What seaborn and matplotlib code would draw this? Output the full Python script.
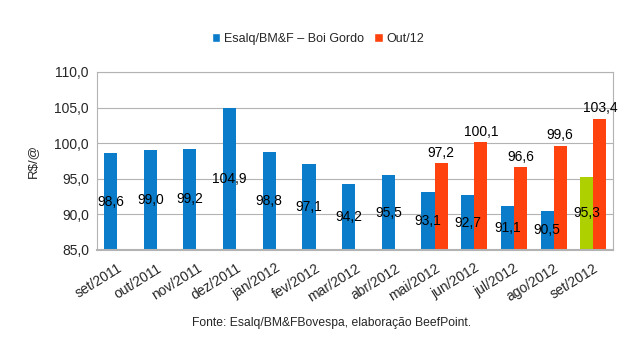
import pandas as pd
import numpy as np
import matplotlib
matplotlib.use("Agg")
import matplotlib.pyplot as plt
import seaborn as sns
from matplotlib.patches import Patch

# Data
months = ["set/2011", "out/2011", "nov/2011", "dez/2011", "jan/2012", "fev/2012",
          "mar/2012", "abr/2012", "mai/2012", "jun/2012", "jul/2012", "ago/2012", "set/2012"]
esalq = [98.6, 99.0, 99.2, 104.9, 98.8, 97.1, 94.2, 95.5, 93.1, 92.7, 91.1, 90.5, 95.3]
out12 = [np.nan] * 8 + [97.2, 100.1, 96.6, 99.6, 103.4]

series_names = ["Esalq/BM&F – Boi Gordo", "Out/12"]
blue, red, green = "#0a7cca", "#ff420e", "#aecf00"

df = pd.concat([
    pd.DataFrame({"mes": months, "valor": esalq, "serie": series_names[0]}),
    pd.DataFrame({"mes": months, "valor": out12, "serie": series_names[1]}),
], ignore_index=True)

sns.set_style("white")
plt.rcParams["font.family"] = ["Liberation Sans", "DejaVu Sans"]

fig = plt.figure(figsize=(6.4, 3.51), dpi=100)
ax = fig.add_axes([0.152, 0.288, 0.806, 0.507])

sns.barplot(data=df, x="mes", y="valor", hue="serie", order=months,
            hue_order=series_names, palette=[blue, red], width=0.66,
            saturation=1, errorbar=None, ax=ax, legend=False,
            linewidth=0, edgecolor="none")

ymin, ymax = 85, 110
ax.set_ylim(ymin, ymax)
ax.set_xlim(-0.5, len(months) - 0.5)

# last Esalq bar is highlighted in green
blue_bars = [p for p in ax.containers[0]]
blue_bars[-1].set_facecolor(green)

def fmt(v):
    return f"{v:.1f}".replace(".", ",")

# blue labels centred in visible part of bar, red labels above bar
for p in ax.containers[0]:
    h = p.get_height()
    if np.isnan(h):
        continue
    ax.text(p.get_x() + p.get_width() / 2, (ymin + h) / 2, fmt(h),
            ha="center", va="center", fontsize=10, color="black")
for p in ax.containers[1]:
    h = p.get_height()
    if np.isnan(h) or h == 0:
        continue
    ax.text(p.get_x() + p.get_width() / 2, h + 0.5, fmt(h),
            ha="center", va="bottom", fontsize=10, color="black")

ax.set_yticks(np.arange(85, 110.1, 5))
ax.set_yticklabels([fmt(v) for v in np.arange(85, 110.1, 5)], fontsize=10)
ax.yaxis.grid(True, color="#b3b3b3", linewidth=0.8)
ax.set_axisbelow(True)

ax.set_xticks(range(len(months)))
ax.set_xticklabels(months, rotation=32, ha="right", rotation_mode="anchor", fontsize=10)
ax.set_xticks(np.arange(-0.5, len(months), 1), minor=True)
ax.tick_params(axis="x", which="major", length=0, pad=8)
ax.tick_params(axis="x", which="minor", length=4, color="#b3b3b3", direction="out")
ax.tick_params(axis="y", length=4, color="#b3b3b3", direction="out", pad=2)

for s in ax.spines.values():
    s.set_color("#b3b3b3")
    s.set_linewidth(0.8)
ax.spines["bottom"].set_linewidth(1.5)

ax.set_xlabel("")
ax.set_ylabel("R$/@", fontsize=9.5, labelpad=11)

handles = [Patch(facecolor=blue, label=series_names[0]),
           Patch(facecolor=red, label=series_names[1])]
fig.legend(handles=handles, loc="center", bbox_to_anchor=(0.497, 0.889), ncol=2,
           frameon=False, fontsize=9, handlelength=0.7, handleheight=0.7,
           handletextpad=0.3, columnspacing=0.8)

fig.text(0.518, 0.08, "Fonte: Esalq/BM&FBovespa, elaboração BeefPoint.",
         ha="center", va="center", fontsize=8.7)

fig.savefig("out.png", dpi=100)
